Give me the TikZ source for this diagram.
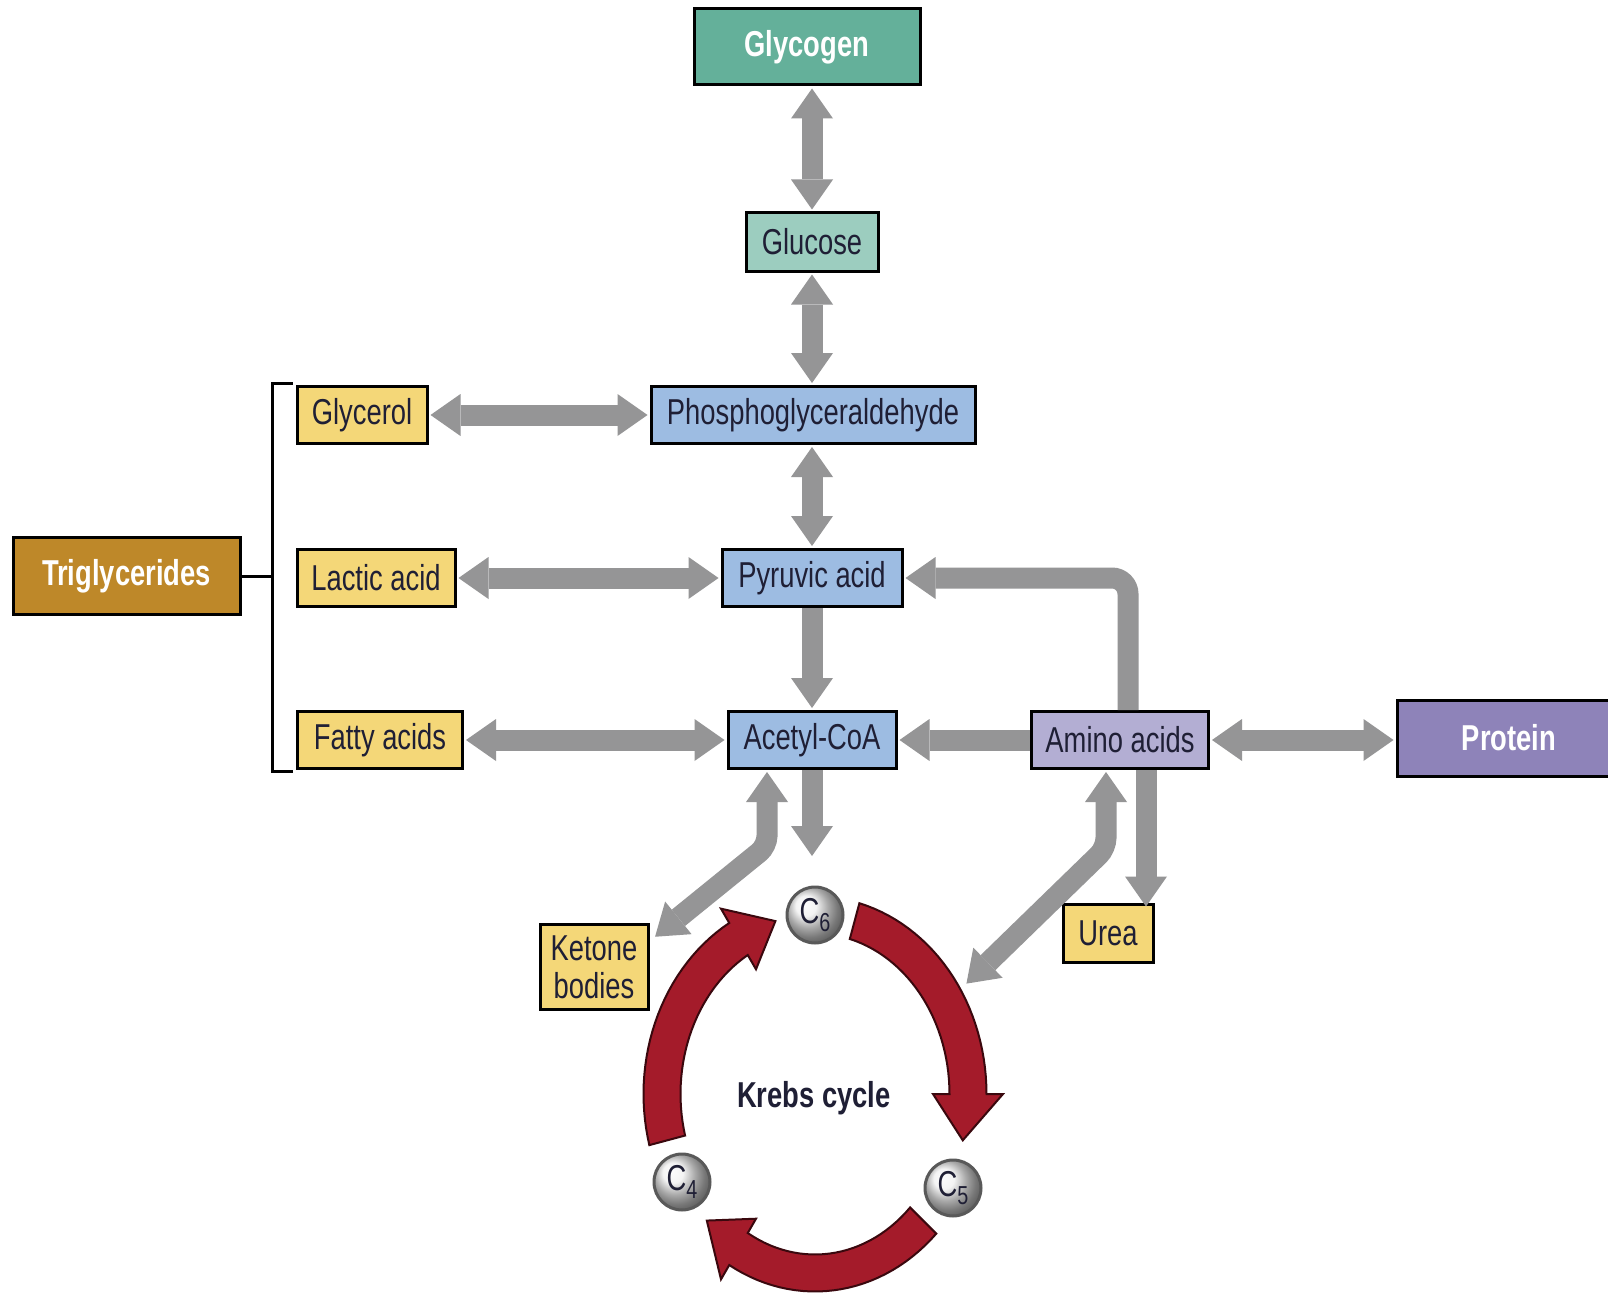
\documentclass[tikz,border=0pt]{standalone}
\usepackage{fontspec}
\setmainfont{Liberation Sans}[FakeStretch=0.76]
\usetikzlibrary{arrows.meta,calc}
\definecolor{glycogenc}{HTML}{64B09A}
\definecolor{glucosec}{HTML}{9CCDBF}
\definecolor{bluec}{HTML}{9DBCE2}
\definecolor{yellowc}{HTML}{F4D778}
\definecolor{trigc}{HTML}{BE8829}
\definecolor{aminoc}{HTML}{B3AED3}
\definecolor{proteinc}{HTML}{8E83B9}
\definecolor{arrowgray}{HTML}{959596}
\definecolor{txt}{HTML}{1F1F35}
\definecolor{krebsred}{HTML}{A41B2A}
\definecolor{krebsedge}{HTML}{3A080E}
\newcommand\krebsarrow[3]{%
  \filldraw[krebsshape]
    plot[variable=\t, domain=#1:#2, samples=30] ({815+171.5*cos(\t)},{1094-197.5*sin(\t)})
    -- ({815+188*cos(#2)},{1094-214*sin(#2)})
    -- ({815+153*cos(#3)},{1094-179*sin(#3)})
    -- ({815+118*cos(#2)},{1094-144*sin(#2)})
    -- plot[variable=\t, domain=#2:#1, samples=30] ({815+134.5*cos(\t)},{1094-160.5*sin(\t)})
    -- cycle;}
\tikzset{
  box/.style={draw=black, line width=1.5pt, inner sep=0pt, text=txt,
    font=\fontsize{18}{19}\selectfont, align=center},
  whitebox/.style={box, text=white, font=\fontsize{18}{19}\selectfont\bfseries},
  garrow/.style={draw=arrowgray, line width=10.5pt,
    -{Triangle[length=15pt,width=21pt,line width=0pt]}, shorten >=1pt},
  gboth/.style={draw=arrowgray, line width=10.5pt,
    {Triangle[length=15pt,width=21pt,line width=0pt]}-{Triangle[length=15pt,width=21pt,line width=0pt]},
    shorten >=1pt, shorten <=1pt},
  krebsshape/.style={fill=krebsred, draw=krebsedge, line width=1pt, line join=miter},
  ballnode/.style={circle, minimum size=28pt, inner sep=0pt, ball color=gray!12,
    draw=black!65, line width=1.5pt, text=txt, font=\fontsize{18}{18}\selectfont},
}
\begin{document}
\begin{tikzpicture}[x=0.5pt, y=-0.5pt]
\useasboundingbox (0,0) rectangle (1608,1295);
\clip (0,0) rectangle (1608,1295);
\fill[white] (0,0) rectangle (1608,1295);

% Krebs cycle ring
\krebsarrow{75}{0}{-15}
\krebsarrow{-45}{-120}{-135}
\krebsarrow{195}{120}{105}

% nodes
\node[whitebox, fill=glycogenc, minimum width=113pt, minimum height=38pt] (glycogen) at (807,47) {Glycogen};
\node[box, fill=glucosec, minimum width=66pt, minimum height=29pt] (glucose) at (812,242) {Glucose};
\node[box, fill=bluec, minimum width=162pt, minimum height=28.5pt] (phospho) at (813,415) {Phosphoglyceraldehyde};
\node[box, fill=bluec, minimum width=90pt, minimum height=28.5pt] (pyruvic) at (812,578) {Pyruvic acid};
\node[box, fill=bluec, minimum width=84pt, minimum height=28.5pt] (acetyl) at (812,740) {Acetyl-CoA};
\node[box, fill=aminoc, minimum width=88.5pt, minimum height=28.5pt] (amino) at (1120,740) {Amino acids};
\node[whitebox, fill=proteinc, minimum width=112pt, minimum height=38pt] (protein) at (1509,738) {Protein};
\node[whitebox, fill=trigc, minimum width=113.5pt, minimum height=38.5pt] (trig) at (126.5,576) {Triglycerides};
\node[box, fill=yellowc, minimum width=65pt, minimum height=28.5pt] (glycerol) at (362,415) {Glycerol};
\node[box, fill=yellowc, minimum width=79pt, minimum height=28.5pt] (lactic) at (376,578) {Lactic acid};
\node[box, fill=yellowc, minimum width=82.5pt, minimum height=28.5pt] (fatty) at (380,740) {Fatty acids};
\node[box, fill=yellowc, minimum width=54pt, minimum height=42.5pt] (ketone) at (594,967) {Ketone\\bodies};
\node[box, fill=yellowc, minimum width=45pt, minimum height=29pt] (urea) at (1108,933) {Urea};

\node[text=txt, font=\fontsize{18}{19}\selectfont\bfseries] (krebs) at (814,1098) {Krebs cycle};
\node[ballnode] (c6) at (815,915) {C\raisebox{-0.4ex}{\fontsize{13}{13}\selectfont 6}};
\node[ballnode] (c4) at (682,1182) {C\raisebox{-0.4ex}{\fontsize{13}{13}\selectfont 4}};
\node[ballnode] (c5) at (953,1188) {C\raisebox{-0.4ex}{\fontsize{13}{13}\selectfont 5}};

% bracket
\coordinate (brtop) at (293,383);
\coordinate (brbot) at (293,771);
\coordinate (brmid) at (272,576);
\draw[line width=1.5pt] (brtop) -- (brtop -| brmid) -- (brbot -| brmid) -- (brbot);
\draw[line width=1.5pt] (trig.east) -- (brmid);

% gray connectors
\draw[gboth] (glucose.north |- glycogen.south) -- (glucose.north);
\draw[gboth] (glucose.south) -- (glucose.south |- phospho.north);
\draw[gboth] (pyruvic.north |- phospho.south) -- (pyruvic.north);
\draw[gboth] (glycerol.east) -- (phospho.west);
\draw[gboth] (lactic.east) -- (pyruvic.west);
\draw[garrow] (pyruvic.south) -- (acetyl.north);
\draw[gboth] (fatty.east) -- (acetyl.west);
\draw[garrow, shorten <=0pt] (amino.west) -- (acetyl.east);
\draw[gboth] (amino.east) -- (amino.east -| protein.west);
\draw[garrow, rounded corners=8pt] ($(amino.north)+(8,0)$) |- (pyruvic.east);
\coordinate (ureatip) at ($(urea.north)+(38,6)$);
\draw[garrow] (amino.south -| ureatip) -- (ureatip);

\coordinate (kbend) at (767,846);
\coordinate (ktip) at ($(ketone.north east)+(4,15)$);
\draw[gboth, rounded corners=5pt] (ktip) -- (kbend) -- (kbend |- acetyl.south);

\coordinate (kin) at (812,858);
\draw[garrow] (acetyl.south) -- (kin);

\coordinate (abend) at (1106,848);
\coordinate (atip) at (965,985);
\draw[gboth, rounded corners=5pt] (atip) -- (abend) -- (abend |- amino.south);
\end{tikzpicture}
\end{document}
